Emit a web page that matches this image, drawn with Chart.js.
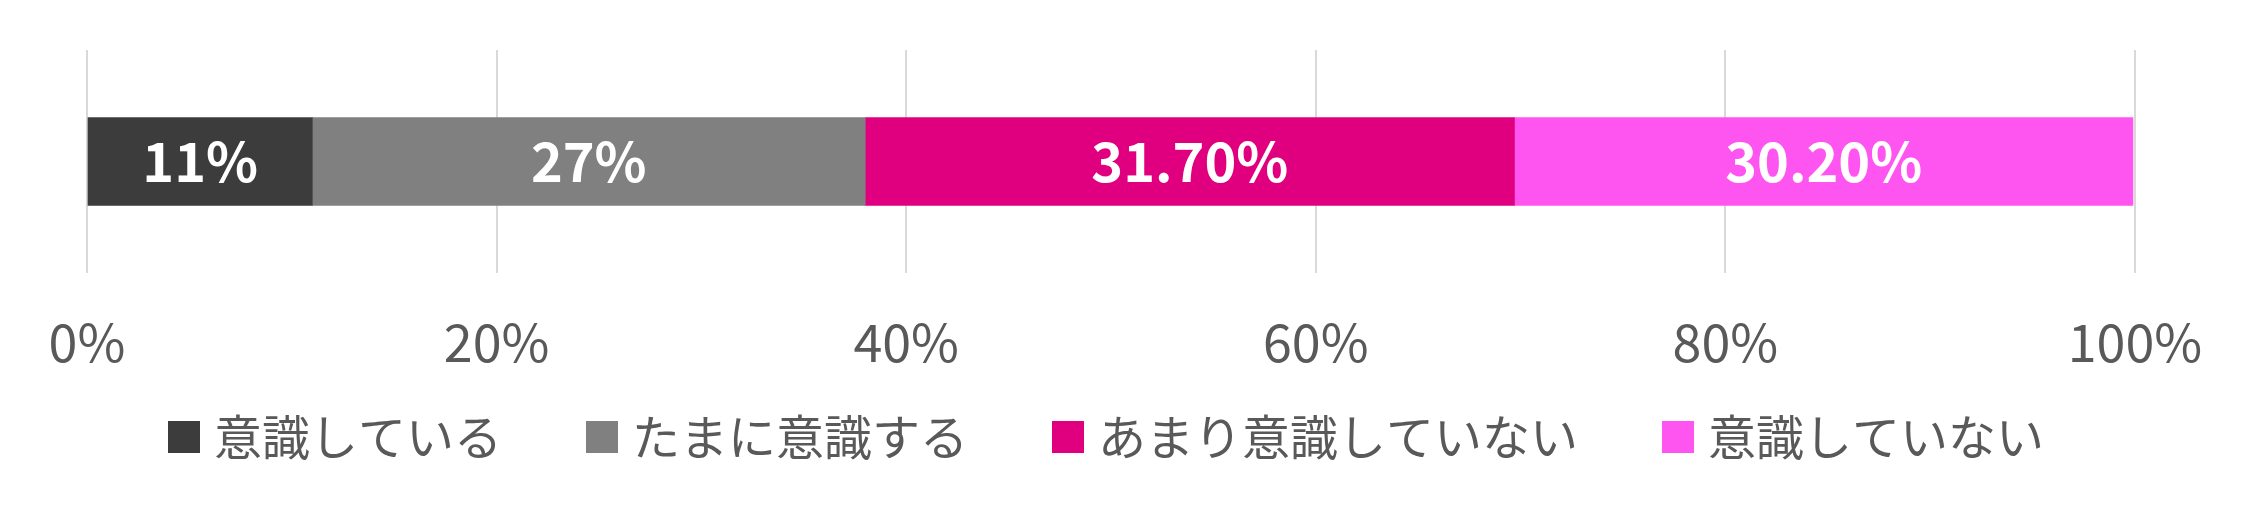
<!DOCTYPE html>
<html>
<head>
<meta charset="utf-8">
<script src="https://cdn.jsdelivr.net/npm/chart.js@4"></script>
<style>
  html, body { margin: 0; padding: 0; background: #fff; }
  #wrap { width: 2252px; height: 530px; }
</style>
</head>
<body>
<div id="wrap"><canvas id="myChart"></canvas></div>
<script>
var categories = [''];
var seriesNames = ['意識している', 'たまに意識する', 'あまり意識していない', '意識していない'];
var seriesValues = [[11], [27], [31.7], [30.2]];
var valueLabels = ['11%', '27%', '31.70%', '30.20%'];
var seriesColors = ['#3c3c3c', '#808080', '#e0007f', '#ff55f0'];
var tickValues = [0, 20, 40, 60, 80, 100];

var fontName = '"Noto Sans CJK JP", "Noto Sans", sans-serif';

// legend marker: the square sits at the right end of a wider transparent image,
// which spaces the items apart and pulls the square closer to its text
var markerBox = 66;
var markerSize = 32;
var markerOver = 10;
function makeMarker(color) {
    var c = document.createElement('canvas');
    c.width = markerBox + 2 * markerOver;
    c.height = markerSize;
    var g = c.getContext('2d');
    g.fillStyle = color;
    g.fillRect(c.width - markerSize, 0, markerSize, markerSize);
    return c;
}

// white labels in the middle of each segment
var barLabels = {
    id: 'barLabels',
    afterDatasetsDraw: function(chart) {
        var ctx = chart.ctx;
        ctx.save();
        ctx.fillStyle = '#ffffff';
        ctx.font = 'bold 54px ' + fontName;
        ctx.textAlign = 'center';
        ctx.textBaseline = 'middle';
        chart.data.datasets.forEach(function(ds, i) {
            var bar = chart.getDatasetMeta(i).data[0];
            var x = (bar.x + bar.base) / 2;
            ctx.fillText(valueLabels[i], x, bar.y);
        });
        ctx.restore();
    }
};

const ctx = document.getElementById('myChart').getContext('2d');
const myChart = new Chart(ctx, {
    type: 'bar',
    data: {
        labels: categories,
        datasets: seriesNames.map(function(name, i) {
            return {
                label: name,
                data: seriesValues[i],
                backgroundColor: seriesColors[i],
                borderWidth: 0,
                barThickness: 88,
                pointStyle: makeMarker(seriesColors[i])
            };
        })
    },
    options: {
        indexAxis: 'y',
        responsive: true,
        maintainAspectRatio: false,
        animation: false,
        layout: {
            padding: { top: 50, left: 0, right: 84, bottom: 59 }
        },
        scales: {
            x: {
                stacked: true,
                min: 0,
                max: 100,
                afterBuildTicks: function(axis) {
                    axis.ticks = tickValues.map(function(v) { return { value: v }; });
                },
                // fixed axis box: plot runs from x=87 to x=2135, labels fit in 100px
                afterFit: function(axis) {
                    axis.height = 100;
                    axis.paddingLeft = 87;
                    axis.paddingRight = 117;
                },
                grid: { color: '#d9d9d9', lineWidth: 2, drawTicks: false },
                border: { display: false },
                ticks: {
                    padding: 38,
                    color: '#595959',
                    font: { family: fontName, size: 52 },
                    callback: function(v) { return v + '%'; }
                }
            },
            y: {
                stacked: true,
                display: false
            }
        },
        plugins: {
            legend: {
                position: 'bottom',
                labels: {
                    usePointStyle: true,
                    pointStyleWidth: markerBox,
                    boxHeight: markerSize,
                    padding: 40,
                    color: '#595959',
                    font: { family: fontName, size: 48 }
                }
            },
            tooltip: { enabled: false }
        }
    },
    plugins: [barLabels]
});
</script>
</body>
</html>
